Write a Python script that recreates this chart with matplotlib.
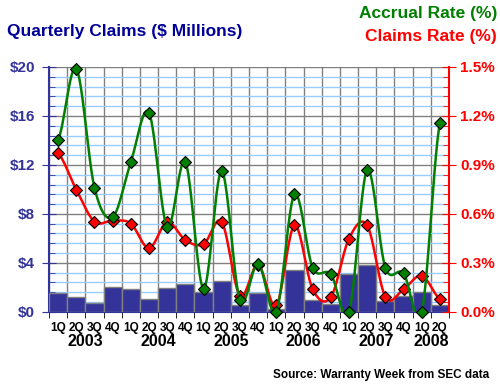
import matplotlib
matplotlib.use("Agg")
import matplotlib.pyplot as plt
import matplotlib.transforms as mtransforms
from matplotlib.ticker import MultipleLocator
import numpy as np

plt.rcParams['font.family'] = ['Liberation Sans', 'DejaVu Sans']
plt.rcParams['font.weight'] = 'bold'

# quarters 2003 Q1 .. 2008 Q2
quarters = ['1Q', '2Q', '3Q', '4Q'] * 5 + ['1Q', '2Q']
years = ['2003', '2004', '2005', '2006', '2007', '2008']
claims = [1.52, 1.2, 0.71, 2.0, 1.85, 1.03, 1.93, 2.26, 1.6, 2.53, 0.54, 1.55,
          0.22, 3.43, 0.98, 0.63, 3.07, 3.81, 0.9, 1.31, 1.6, 0.54]
accrual_rate = [1.053, 1.49, 0.761, 0.58, 0.918, 1.22, 0.52, 0.918, 0.143, 0.861, 0.073, 0.294,
                0.0, 0.72, 0.271, 0.231, 0.0, 0.869, 0.271, 0.237, 0.0, 1.159]
claims_rate = [0.971, 0.749, 0.553, 0.559, 0.541, 0.39, 0.55, 0.44, 0.414, 0.551, 0.098, 0.29,
               0.039, 0.53, 0.139, 0.09, 0.449, 0.53, 0.092, 0.139, 0.222, 0.08]

BLUE = '#000099'
BAR = '#333399'
GREEN = '#007f00'
RED = '#ff0000'


def smooth(vals, n=24):  # catmull-rom curve through the points, only for drawing
    p = np.r_[vals[0], vals, vals[-1]]
    xs, ys = [], []
    for i in range(1, len(p) - 2):
        t = np.linspace(0, 1, n, endpoint=False)
        p0, p1, p2, p3 = p[i - 1], p[i], p[i + 1], p[i + 2]
        y = 0.5 * (2 * p1 + (-p0 + p2) * t + (2 * p0 - 5 * p1 + 4 * p2 - p3) * t ** 2
                   + (-p0 + 3 * p1 - 3 * p2 + p3) * t ** 3)
        xs.append(i - 1 + t)
        ys.append(y)
    xs.append([len(vals) - 1])
    ys.append([vals[-1]])
    return np.concatenate(xs), np.concatenate(ys)


fig = plt.figure(figsize=(5, 3.85), dpi=100)
ax = fig.add_axes([0.098, 0.19, 0.8, 0.636])
x = np.arange(len(claims))

ax.bar(x, claims, width=1.0, color=BAR, edgecolor='#808080', linewidth=1, zorder=3)
ax.set_xlim(-0.5, len(claims) - 0.5)
ax.set_ylim(0, 20)
ax.set_yticks(range(0, 21, 4))
ax.set_yticklabels([f'${v}' for v in range(0, 21, 4)], color=BAR, fontsize=11, fontweight='bold')
ax.yaxis.set_minor_locator(MultipleLocator(0.8))
ax.set_xticks(x)
ax.set_xticklabels(quarters, fontsize=8.5, fontweight='bold')
ax.set_xticks(np.arange(-0.5, len(claims), 1), minor=True)
ax.tick_params(axis='x', which='major', length=0, pad=7)
ax.tick_params(axis='x', which='minor', length=4, direction='out', color='black')
ax.tick_params(axis='y', which='major', length=10, direction='inout', color=BAR, pad=5)
ax.tick_params(axis='y', which='minor', length=4, direction='in', color=BAR)
ax.grid(which='minor', axis='x', color='#808080', linewidth=1, zorder=1)
ax.grid(which='major', axis='y', color='#808080', linewidth=1, zorder=1)
ax.grid(which='minor', axis='y', color='#99ccff', linewidth=1, zorder=1)
ax.set_axisbelow(True)
for s in ['top', 'right']:
    ax.spines[s].set_visible(False)
ax.spines['left'].set_color(BAR)
ax.spines['left'].set_linewidth(1.5)
ax.spines['bottom'].set_color(BAR)

ax2 = ax.twinx()
ax2.set_ylim(0, 1.5)
ax2.set_yticks(np.arange(0, 1.51, 0.3))
ax2.set_yticklabels([f'{v:.1f}%' for v in np.arange(0, 1.51, 0.3)], color=RED, fontsize=11, fontweight='bold')
ax2.yaxis.set_minor_locator(MultipleLocator(0.06))
ax2.tick_params(axis='y', which='major', length=10, direction='inout', color=RED, pad=3)
ax2.tick_params(axis='y', which='minor', length=4, direction='in', color=RED)
for s in ['top', 'left', 'bottom']:
    ax2.spines[s].set_visible(False)
ax2.spines['right'].set_color(RED)
ax2.spines['right'].set_linewidth(1.5)

sx, sy = smooth(claims_rate)
ax2.plot(sx, sy, color=RED, linewidth=1.8, zorder=3)
ax2.plot(x, claims_rate, linestyle='none', marker='D', markersize=6.5, markerfacecolor=RED,
         markeredgecolor='black', markeredgewidth=0.8, zorder=4, clip_on=False)
sx, sy = smooth(accrual_rate)
ax2.plot(sx, sy, color=GREEN, linewidth=1.8, zorder=5)
ax2.plot(x, accrual_rate, linestyle='none', marker='D', markersize=6.5, markerfacecolor=GREEN,
         markeredgecolor='black', markeredgewidth=0.8, zorder=6, clip_on=False)

# year labels under the quarter labels
trans = mtransforms.blended_transform_factory(ax.transData, ax.transAxes)
for i, yr in enumerate(years):
    start = i * 4
    end = min(start + 3, len(claims) - 1)
    ax.text((start + end) / 2, -0.09, yr, transform=trans, ha='center', va='top',
            fontsize=11.5, fontweight='bold')

fig.text(0.014, 0.917, 'Quarterly Claims ($ Millions)', color=BLUE, fontsize=12.5,
         fontweight='bold', ha='left', va='center')
fig.text(0.994, 0.964, 'Accrual Rate (%)', color=GREEN, fontsize=12.5,
         fontweight='bold', ha='right', va='center')
fig.text(0.994, 0.904, 'Claims Rate (%)', color=RED, fontsize=12.5,
         fontweight='bold', ha='right', va='center')
fig.text(0.978, 0.026, 'Source: Warranty Week from SEC data', fontsize=8.5,
         fontweight='bold', ha='right', va='center')

fig.savefig('out.png', dpi=100)
